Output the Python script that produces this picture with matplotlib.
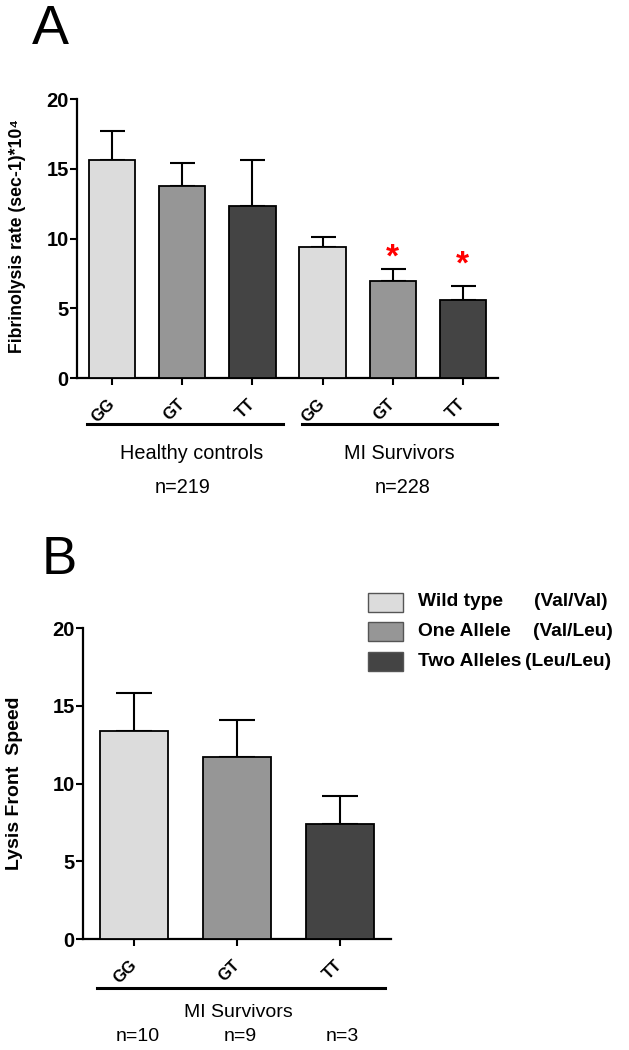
import numpy as np
import matplotlib
matplotlib.use("Agg")
import matplotlib.pyplot as plt
from matplotlib.patches import Rectangle

plt.rcParams['font.family'] = ['Liberation Sans', 'DejaVu Sans']

# Panel A data
genos_a = ["GG", "GT", "TT", "GG", "GT", "TT"]
rate_a = [15.6, 13.8, 12.3, 9.4, 6.95, 5.6]
err_a = [2.1, 1.6, 3.3, 0.7, 0.85, 1.0]
star_a = [None, None, None, None, 8.6, 8.1]
groups_a = ["Healthy controls", "MI Survivors"]
n_a = ["n=219", "n=228"]

# Panel B data
genos_b = ["GG", "GT", "TT"]
speed_b = [13.4, 11.7, 7.4]
err_b = [2.4, 2.4, 1.8]
n_b = ["n=10", "n=9", "n=3"]

legend_names = ["Wild type", "One Allele", "Two Alleles"]
legend_types = ["(Val/Val)", "(Val/Leu)", "(Leu/Leu)"]

colors = ["#dcdcdc", "#969696", "#444444"]


def bar_panel(ax, vals, errs, labels, ylabel, cap, lsize):
    x = np.arange(len(vals))
    cols = [colors[i % 3] for i in range(len(vals))]
    ax.bar(x, vals, width=0.66, color=cols, edgecolor="black", linewidth=1.3, zorder=3)
    ax.errorbar(x, vals, yerr=[np.zeros(len(vals)), errs], fmt="none",
                ecolor="black", elinewidth=1.5, capsize=cap, capthick=1.5, zorder=2)
    ax.set_xlim(-0.5, len(vals) - 0.5)
    ax.set_ylim(0, 20)
    ax.set_yticks([0, 5, 10, 15, 20])
    ax.set_xticks(x)
    ax.set_xticklabels(labels, rotation=45, ha="right", va="center",
                       rotation_mode="anchor", fontsize=12, fontweight="bold")
    for lab in ax.get_yticklabels():
        lab.set_fontweight("bold")
        lab.set_fontsize(14.5)
    ax.spines["top"].set_visible(False)
    ax.spines["right"].set_visible(False)
    ax.spines["left"].set_linewidth(1.6)
    ax.spines["bottom"].set_linewidth(1.6)
    ax.tick_params(axis="both", width=1.5, length=5, direction="out")
    ax.tick_params(axis="y", pad=1)
    ax.tick_params(axis="x", pad=12)
    ax.set_ylabel(ylabel, fontsize=lsize, fontweight="bold")


fig = plt.figure(figsize=(6.29, 10.5), dpi=100)

# ---- Panel A
axA = fig.add_axes([0.1224, 0.64, 0.6693, 0.2657])
bar_panel(axA, rate_a, err_a, genos_a, "Fibrinolysis rate (sec-1)*10\u2074", 9, 12.7)
axA.yaxis.set_label_coords(-0.122, 0.51)
for i, s in enumerate(star_a):
    if s is not None:
        axA.text(i, s, "*", color="red", fontsize=24, fontweight="bold",
                 ha="center", va="center", zorder=4)
trA = axA.get_xaxis_transform()
for (x0, x1), g, n, xc, xn in zip([(-0.36, 2.43), (2.7, 5.49)], groups_a, n_a,
                                  [1.14, 4.09], [1.0, 4.14]):
    axA.plot([x0, x1], [-0.165, -0.165], color="black", lw=2.2,
             transform=trA, clip_on=False)
    axA.text(xc, -0.269, g, transform=trA, ha="center", va="center", fontsize=14.3)
    axA.text(xn, -0.391, n, transform=trA, ha="center", va="center", fontsize=14.3)
fig.text(0.05, 0.971, "A", fontsize=40, ha="left", va="center")

# ---- Panel B
axB = fig.add_axes([0.132, 0.1057, 0.4897, 0.2962])
bar_panel(axB, speed_b, err_b, genos_b, "Lysis Front  Speed", 13, 14)
axB.yaxis.set_label_coords(-0.195, 0.5)
trB = axB.get_xaxis_transform()
axB.plot([-0.36, 2.44], [-0.158, -0.158], color="black", lw=2.2,
         transform=trB, clip_on=False)
axB.text(1.01, -0.235, "MI Survivors", transform=trB, ha="center", va="center", fontsize=14)
for i, n in enumerate(n_b):
    axB.text(i + 0.03, -0.315, n, transform=trB, ha="center", va="center", fontsize=14)
fig.text(0.066, 0.467, "B", fontsize=38, ha="left", va="center")

# legend drawn by hand
row_y = [602, 631, 661]
for c, name, typ, y, tx in zip(colors, legend_names, legend_types, row_y, [534, 533, 525]):
    fig.patches.append(Rectangle((368 / 629, 1 - (y + 9.5) / 1050), 35 / 629, 19 / 1050,
                                 transform=fig.transFigure, facecolor=c,
                                 edgecolor="#555555", linewidth=1))
    fig.text(418 / 629, 1 - y / 1050, name, fontsize=13.8, fontweight="bold",
             ha="left", va="center")
    fig.text(tx / 629, 1 - y / 1050, typ, fontsize=13.8, fontweight="bold",
             ha="left", va="center")

fig.savefig("out.png", dpi=100)
